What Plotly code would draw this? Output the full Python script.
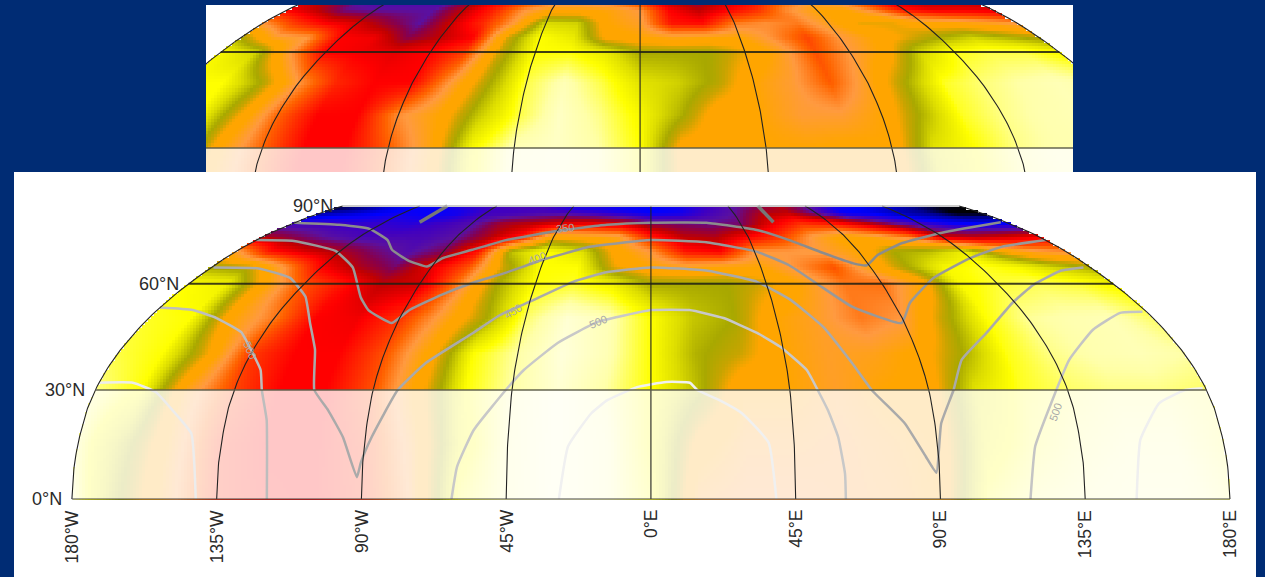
import numpy as np
import plotly.graph_objects as go

LONS = list(range(-180, 181, 15))
LATS_MAIN = [0, 15, 30, 40, 50, 60, 65, 70, 75, 80, 85, 90]
MAIN_00 = [.5, 2, 3.3, 4.6, 4.9, 5, 4.6, 3.5, .9, .5, .2, .4, .9, 3.3, 3.5, 3.5, 3.4, 3.3, 3, .9, .6, .5, .4, .4, .6]
MAIN_15 = [.7, 1.8, 3.2, 4.6, 5, 5, 4.5, 3.3, 1.2, .5, .2, .4, 1, 2.8, 3.3, 3.3, 3.4, 3.2, 3, 1.2, .8, .6, .5, .5, .7]
MAIN_30 = [.6, 1, 3.2, 4.3, 5, 5, 4.2, 2.8, 1, .5, .2, .5, 1, 1.8, 3, 3, 3.3, 3, 2.9, 1.4, .9, .7, .6, .6, .7]
MAIN_40 = [.8, 1, 2.5, 4.4, 5, 5, 4.2, 2.9, 1, .5, .15, .4, 1, 1.9, 2.3, 3, 3.3, 3.2, 2.9, 2, .95, .6, .45, .4, .5]
MAIN_50 = [.9, 1, 3, 3.8, 5, 5.1, 4.5, 3.3, 2.1, .7, .2, .4, 1, 1.7, 2, 3, 3.3, 3.8, 3.5, 2.2, 1, .55, .45, .4, .7]
MAIN_60 = [1, 1.2, 2.9, 4.2, 4.8, 5.5, 5.4, 3.8, 2, 1, .9, 1.2, 2, 2, 2, 2.4, 3.1, 3.8, 3.9, 3, 1.1, .85, .75, .85, 1.1]
MAIN_65 = [2, 2.2, 3.5, 5, 5.6, 6, 5.2, 4.2, 2.3, 1, 1, 2.5, 3, 3.2, 3, 3, 3.6, 4.2, 3, 2, 1.1, .9, 1.1, 1.6, 2]
MAIN_70 = [3.2, 4.8, 5.3, 5.6, 6, 6.3, 5.9, 4.8, 1.7, 1, 1.4, 2.8, 3.5, 4.8, 5, 3.5, 3.5, 3.4, 3, 2, 1.8, 1.2, 2.5, 3.3, 3.6]
MAIN_75 = [5.6, 5.9, 6.2, 6.4, 6.4, 6.4, 6.2, 5.6, 4.8, 2.7, 3, 3.2, 4.7, 5.5, 5.6, 5, 4.4, 3.4, 2.8, 3.2, 3.8, 5.4, 5.5, 5.3, 5]
MAIN_80 = [6.5, 6.5, 6.6, 6.6, 6.7, 6.5, 6.3, 5.7, 5.5, 5.2, 5.1, 5.3, 5.9, 6, 6.1, 6, 5.2, 4.5, 4.7, 5.3, 6, 6.5, 6.9, 7, 7]
MAIN_85 = [7.5, 7.3, 7.1, 6.9, 7, 6.9, 6.5, 6.5, 6.4, 6.4, 6.6, 6.8, 7, 6.9, 6.5, 6.2, 5.6, 5.5, 6.2, 7, 7.1, 7.4, 7.6, 8, 8]
MAIN_90 = [7.9, 7.7, 7.2, 7, 6.9, 6.6, 6.5, 6.4, 6.5, 6.9, 6.9, 7, 7, 6.9, 6.6, 6.3, 6, 5.6, 6.2, 6.8, 7, 7.2, 7.6, 7.9, 8]

LATS_TOP = [15, 30, 40, 50, 60, 65, 70, 75, 80]
TOP_15 = [1, 1.2, 3, 4, 5, 5, 4.1, 3.1, 1.1, .4, .3, .5, 1, 2.8, 3, 3, 3, 2.9, 3, 1.4, 1, .6, .5, .5, .5]
TOP_30 = [1, 1, 3, 4, 5, 5, 4.1, 3.1, 1.1, .4, .3, .5, 1, 2.8, 3, 3, 3, 2.9, 3, 1.4, 1, .6, .45, .45, .5]
TOP_40 = [1, 1, 2.5, 4, 5, 5, 3.6, 3, 1.7, .8, .3, .6, 1.1, 1.9, 3, 3, 3.4, 3.4, 3, 1.9, .9, .6, .45, .4, .5]
TOP_50 = [1, 1, 2, 3.5, 4.6, 5, 5, 3.5, 2.1, .8, .4, .8, 1.4, 1.6, 2.1, 3, 3.4, 4.1, 3.2, 2, .9, .65, .5, .4, .5]
TOP_60 = [1.1, 1.6, 3.5, 5, 5.1, 5.2, 5, 4.4, 2.3, 1, 1, 1.3, 2, 2, 2, 2.5, 3.2, 4.2, 3.5, 2.9, 1.6, .95, .8, .8, 1.1]
TOP_65 = [2, 3.3, 3.5, 5, 5.1, 5.9, 5.5, 5, 2.4, 1, 1.3, 2.8, 3, 3.2, 3.1, 3, 3.6, 4.3, 3.5, 3, 2.5, 2, 1.6, 1.9, 2.2]
TOP_70 = [3.5, 4.4, 5, 5.3, 5.8, 6.2, 5.4, 4.6, 3.4, 1.5, 1.6, 3, 3.3, 4.8, 4.9, 3.8, 3.6, 3.8, 3.2, 2.5, 2.5, 2.9, 3, 3.2, 3.5]
TOP_75 = [5, 5.5, 6.1, 6.2, 6.2, 6.2, 5.5, 4.7, 3.6, 3, 3, 3.1, 3.5, 5, 5.5, 5, 4.5, 3.6, 3, 3, 3.8, 4.8, 5.1, 5.1, 5.2]
TOP_80 = [5.5, 5.8, 6.3, 6.4, 6.4, 6.4, 5.8, 5, 4.5, 4, 4, 4.2, 4.8, 5.6, 5.9, 5.5, 5, 4.2, 3.6, 3.8, 4.6, 5.4, 5.6, 5.6, 5.6]

# contour lines as (lon, lat)
C350 = [(-180, 80.5), (-155, 79.6), (-136, 78), (-120, 74), (-113, 70.7), (-102, 67.3), (-92, 65.3), (-88, 68), (-78, 70.7), (-66, 74), (-45, 77.3), (-22, 79.6), (0, 80.5), (28, 80.5), (51, 77.7), (63, 74), (74, 69.7), (84, 66.3), (89, 65.7), (97, 69), (113, 73), (135, 76.3), (156, 78.6), (177, 80.7)]
C300A = [(-117, 80.7), (-119, 90)]
C300B = [(62.5, 90), (62, 80.7)]
C400 = [(-180, 74), (-162, 73.7), (-137, 70.3), (-122, 65), (-109, 56), (-103, 52.3), (-92, 48.6), (-88, 52.3), (-79, 56.8), (-69.5, 60.3), (-58, 63.5), (-46, 67.3), (-27, 71.7), (0, 74), (25, 73.3), (46, 70), (57, 65.7), (66, 59), (74, 53.2), (89, 48.6), (96, 54.4), (112, 61.8), (135, 68), (155, 71.7), (180, 74)]
C450 = [(-179, 65), (-160, 64.7), (-143, 61.8), (-130, 56.2), (-121, 48.6), (-114, 41.1), (-109, 30), (-103, 24.4), (-97, 17), (-91.6, 6), (-90.6, 10), (-88, 17), (-82, 30), (-75, 37.5), (-62, 45.8), (-54.5, 50.8), (-45, 54.7), (-30.5, 60.6), (-18, 63.5), (0, 65), (23, 64), (41.5, 60.6), (52, 55.3), (60.7, 47.5), (67, 37.5), (71.5, 30), (80.5, 20.8), (86, 11.7), (89, 7.2), (92, 20.8), (98, 30), (104, 38.3), (117, 45.8), (134, 54.4), (148.5, 59.7), (166, 64), (177, 65)]
C500A = [(-180, 53), (-167, 52.3), (-155.6, 50), (-143, 46), (-137, 42), (-129, 35.5), (-126, 30), (-122, 21.7), (-120, 10.8), (-119.4, 0)]
C500B = [(-62, 0), (-60.5, 8.9), (-56, 19), (-47, 30), (-42, 35.5), (-32, 43), (-19, 48.9), (-12, 50.3), (0, 52.3), (14, 52.3), (26, 50), (37, 45.8), (44, 42), (51.5, 35.5), (54, 30), (56.5, 24.4), (59, 17), (60.5, 7), (60.6, 0)]
C500C = [(178.5, 51.8), (170, 51.5), (155, 46.7), (140, 38.3), (129, 27.2), (120.6, 14.5), (118, 0)]
C550A = [(-180, 32), (-169, 32), (-160, 29.4), (-152, 23.9), (-145, 18), (-141.5, 0)]
C550B = [(-28.6, 0), (-26, 14.5), (-19, 23.6), (-14, 27.2), (-4.5, 30.8), (5, 32.2), (12.7, 32), (15, 30), (22, 27.2), (29, 23.6), (37, 15.5), (39, 0)]
C550C = [(151, 0), (154, 16.3), (163, 26.4), (173, 30), (179, 30.5)]

CONTOURS = [
    (C300A, "#777777", 3.5), (C300B, "#777777", 3.5),
    (C350, "#8c8c8c", 2.5), (C400, "#999999", 2.5), (C450, "#aaaaaa", 2.5),
    (C500A, "#bdbdbd", 2.5), (C500B, "#c8c8c8", 2.5), (C500C, "#c4c4c4", 2.5),
    (C550A, "#ececec", 2.5), (C550B, "#f0f0f0", 2.5), (C550C, "#efefef", 2.5),
]
CONTOUR_LABELS = [("350", -42, 78.5, -6), ("400", -48, 68, -20), ("450", -50, 52, -30),
                  ("500", -19, 48.9, -22), ("500", -136, 41, 68), ("500", 129, 24, -70)]
LON_TICKS = [-180, -135, -90, -45, 0, 45, 90, 135, 180]
LON_LABELS = ["180°W", "135°W", "90°W", "45°W", "0°E", "45°E", "90°E", "135°E", "180°E"]
LAT_TICKS = [0, 30, 60, 90]
LAT_LABELS = ["0°N", "30°N", "60°N", "90°N"]

# Robinson projection table
R_LAT = np.arange(0, 91, 5)
R_PLEN = np.array([1, .9986, .9954, .99, .9822, .973, .96, .9427, .9216, .8962, .8679, .835, .7986, .7597, .7186, .6732, .6213, .5722, .5322])
R_PDFE = np.array([0, .062, .124, .186, .248, .31, .372, .434, .4958, .5571, .6176, .6769, .7346, .7903, .8435, .8936, .9394, .9761, 1])


def proj(lon, lat):
    lon, lat = np.asarray(lon, float), np.asarray(lat, float)
    return lon * np.interp(lat, R_LAT, R_PLEN), np.interp(lat, R_LAT, R_PDFE)


def sample(lats, table, xr, yr, nx, ny):
    xs = np.linspace(xr[0], xr[1], nx)
    ys = np.linspace(yr[0], yr[1], ny)
    t = np.array(table, float)
    z = np.full((ny, nx), np.nan)
    for i, Y in enumerate(ys):
        if Y < 0 or Y > 1:
            continue
        lat = np.interp(Y, R_PDFE, R_LAT)
        plen = np.interp(lat, R_LAT, R_PLEN)
        row = np.array([np.interp(lat, lats, t[:, j]) for j in range(t.shape[1])])
        lon = xs / plen
        v = np.interp(lon, LONS, row)
        v[np.abs(lon) > 180] = np.nan
        z[i] = v
    return xs, ys, z


STOPS = [(0, "#fffff0"), (.5, "#ffffa8"), (1, "#ffff00"), (1.5, "#dcdc00"), (2, "#a8a800"),
         (2.3, "#c8a400"), (2.6, "#ffa500"), (3, "#ffa500"), (3.5, "#ff9a40"), (4, "#ff6400"),
         (4.5, "#ff3000"), (5, "#ff0000"), (5.5, "#c00000"), (5.9, "#86004e"), (6.2, "#5a10a0"),
         (6.5, "#4000c0"), (7, "#0000ff"), (7.6, "#000090"), (8, "#000000")]
CS = [[v / 8, c] for v, c in STOPS]

W, H = 1265, 577
XR_MAIN = (-198, 188.1)
YR_MAIN = (-.2662, 1.1160)
XR_TOP = (-148.8, 148.4)
YR_TOP = (.2813, .912)

fig = go.Figure()


def add_panel(lats, table, xr, yr, nx, ny, xa, ya, with_contours):
    xs, ys, z = sample(lats, table, xr, yr, nx, ny)
    fig.add_trace(go.Heatmap(x=xs, y=ys, z=z, colorscale=CS, zmin=0, zmax=8, showscale=False,
                             hoverinfo="skip", xaxis=xa, yaxis=ya))
    # pale veil below 30N
    la = np.linspace(0, 30, 30)
    ox1, oy1 = proj(np.full(30, 180), la)
    ox2, oy2 = proj(np.full(30, -180), la[::-1])
    fig.add_trace(go.Scatter(x=np.r_[ox1, ox2], y=np.r_[oy1, oy2], fill="toself", mode="lines",
                             line=dict(width=0), fillcolor="rgba(255,255,255,0.78)",
                             hoverinfo="skip", xaxis=xa, yaxis=ya))
    if with_contours:
        for pts, col, w in CONTOURS:
            cx, cy = proj([p[0] for p in pts], [p[1] for p in pts])
            fig.add_trace(go.Scatter(x=cx, y=cy, mode="lines", line=dict(color=col, width=w, shape="spline", smoothing=.4),
                                     hoverinfo="skip", xaxis=xa, yaxis=ya))
    # graticule
    la = np.linspace(0, 90, 91)
    for lon in LON_TICKS:
        mx, my = proj(np.full(91, lon), la)
        fig.add_trace(go.Scatter(x=mx, y=my, mode="lines", line=dict(color="#222222", width=1.1),
                                 hoverinfo="skip", xaxis=xa, yaxis=ya))
    lo = np.array([-180.0, 180.0])
    for lat, col, w in [(0, "#444444", 1.2), (30, "rgba(90,90,70,0.7)", 2), (60, "rgba(30,30,20,0.85)", 2), (90, "#bbbbbb", 1.5)]:
        px_, py_ = proj(lo, np.full(2, lat))
        fig.add_trace(go.Scatter(x=px_, y=py_, mode="lines", line=dict(color=col, width=w),
                                 hoverinfo="skip", xaxis=xa, yaxis=ya))


add_panel(LATS_MAIN, [MAIN_00, MAIN_15, MAIN_30, MAIN_40, MAIN_50, MAIN_60, MAIN_65, MAIN_70, MAIN_75, MAIN_80, MAIN_85, MAIN_90],
          XR_MAIN, YR_MAIN, 414, 135, "x", "y", True)
add_panel(LATS_TOP, [TOP_15, TOP_30, TOP_40, TOP_50, TOP_60, TOP_65, TOP_70, TOP_75, TOP_80],
          XR_TOP, YR_TOP, 289, 56, "x2", "y2", False)

for lon, txt in zip(LON_TICKS, LON_LABELS):
    ax_, ay_ = proj(lon, 0)
    fig.add_annotation(x=float(ax_), y=float(ay_), xref="x", yref="y", text=txt, showarrow=False, textangle=-90,
                       xanchor="center", yanchor="top", yshift=-9,
                       font=dict(family="Liberation Sans", size=17.5, color="#2a2a2a"))
for lat, txt in zip(LAT_TICKS, LAT_LABELS):
    ax_, ay_ = proj(-180, lat)
    fig.add_annotation(x=float(ax_), y=float(ay_), xref="x", yref="y", text=txt, showarrow=False,
                       xanchor="right", yanchor="middle", xshift=-8,
                       font=dict(family="Liberation Sans", size=18, color="#2a2a2a"))
for txt, lon, lat, ang in CONTOUR_LABELS:
    ax_, ay_ = proj(lon, lat)
    fig.add_annotation(x=float(ax_), y=float(ay_), xref="x", yref="y", text=txt, showarrow=False, textangle=ang,
                       font=dict(family="Liberation Sans", size=11, color="#a8a8a8"))

hidden = dict(visible=False, fixedrange=True)
fig.update_layout(
    width=W, height=H, margin=dict(l=0, r=0, t=0, b=0), showlegend=False,
    paper_bgcolor="#002c74", plot_bgcolor="#ffffff",
    xaxis=dict(domain=[14 / W, 1256 / W], range=list(XR_MAIN), **hidden),
    yaxis=dict(domain=[0, 1 - 172 / H], range=list(YR_MAIN), **hidden),
    xaxis2=dict(domain=[206 / W, 1073 / W], range=list(XR_TOP), anchor="y2", **hidden),
    yaxis2=dict(domain=[1 - 172 / H, 1 - 5 / H], range=list(YR_TOP), anchor="x2", **hidden),
)
fig.write_html("out.html", config={"displayModeBar": False},
               post_script="document.body.style.margin='0';document.body.style.overflow='hidden';")
